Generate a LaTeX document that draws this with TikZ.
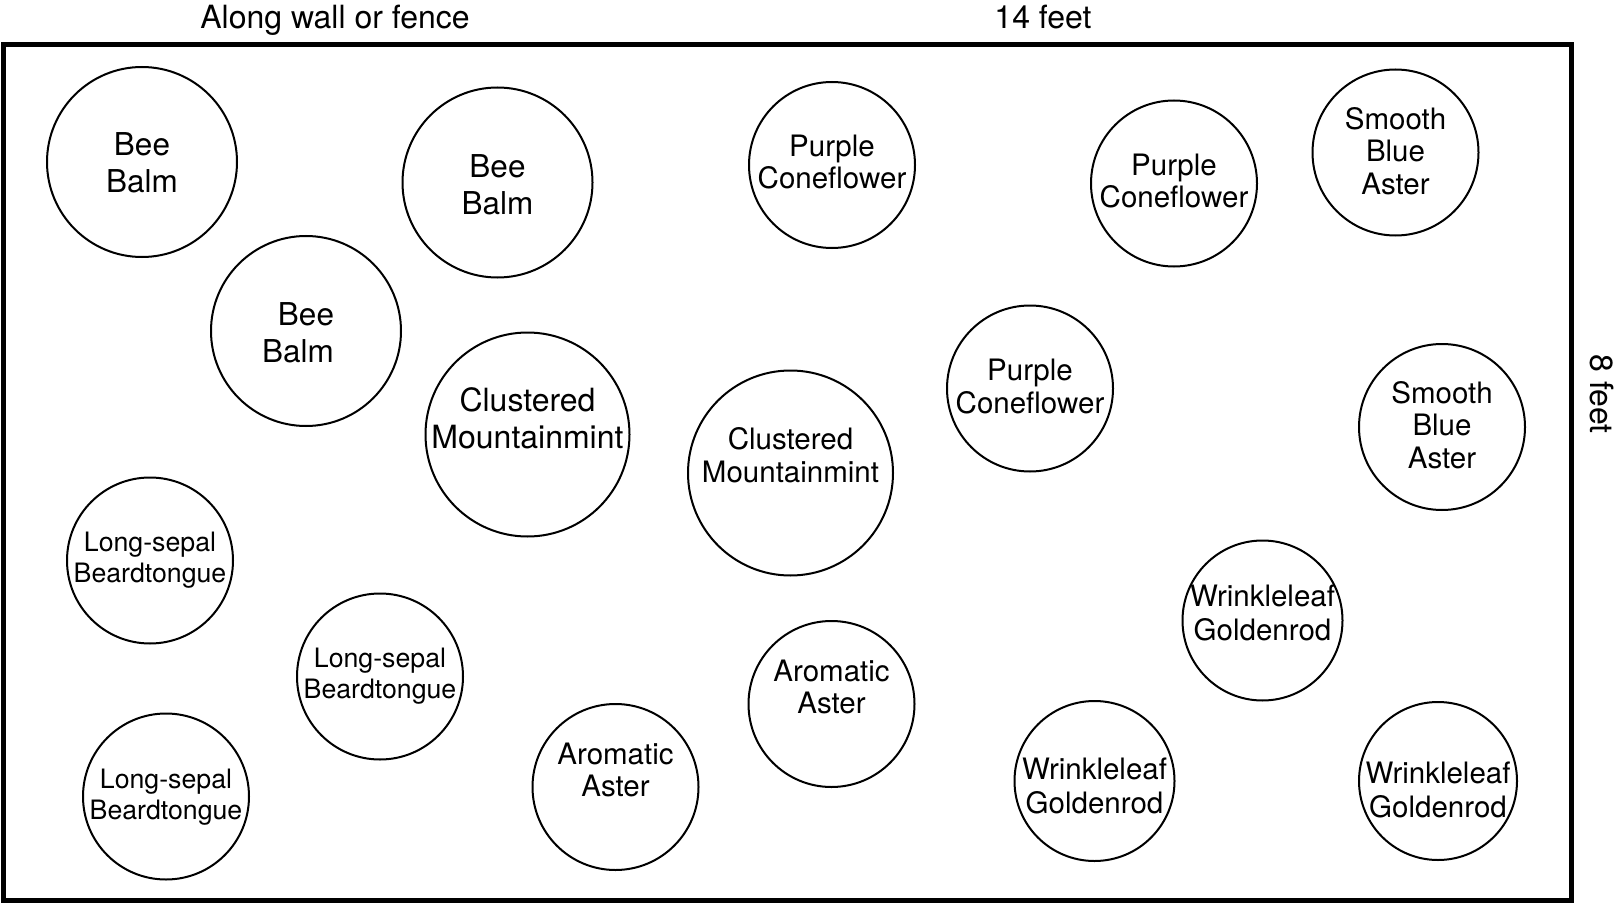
\documentclass[tikz,border=0pt]{standalone}
\usepackage{fontspec}
\setmainfont{TeX Gyre Heros}
\usepackage{tikz}

\begin{document}
\begin{tikzpicture}[x=1pt,y=-1pt,
  plant/.style={draw=black,line width=2pt},
  lbl/.style={align=center,inner sep=0pt},
  balm/.style={lbl,font=\fontsize{31.5}{37}\selectfont},
  mint/.style={lbl,font=\fontsize{32}{36.7}\selectfont},
  flower/.style={lbl,font=\fontsize{29.5}{32.5}\selectfont},
  weed/.style={lbl,font=\fontsize{29.5}{34}\selectfont},
  tongue/.style={lbl,font=\fontsize{26.7}{31}\selectfont},
  side/.style={inner sep=0pt,font=\fontsize{32}{38}\selectfont}]
\useasboundingbox (0,0) rectangle (1617,904);

% bed
\draw[line width=5pt] (3.5,44.8) rectangle (1571.5,900.5);
\node[side,anchor=base] (wall) at (335,28.3) {Along wall or fence};
\node[side,anchor=base] (width) at (1043,28.3) {14 feet};
\node[side,rotate=-90] (depth) at (1601.5,394) {8 feet};

% bee balm
\draw[plant] (142,162) circle (95);
\node[balm] (bb1) at (142,163) {Bee\\Balm};
\draw[plant] (497.5,182.5) circle (95);
\node[balm] (bb2) at (497.5,185) {Bee\\Balm};
\draw[plant] (306,331) circle (95);
\node[balm] (bb3) at (306,333) {Bee\\Balm\hspace*{16pt}};

% coneflower and aster
\draw[plant] (832,165) circle (83);
\node[flower] (pc1) at (832,162) {Purple\\Coneflower};
\draw[plant] (1174,183.5) circle (83);
\node[flower] (pc2) at (1174,181) {Purple\\Coneflower};
\draw[plant] (1030,388.5) circle (83);
\node[flower] (pc3) at (1030,386.5) {Purple\\Coneflower};
\draw[plant] (1395.5,152.5) circle (83);
\node[flower] (sba1) at (1395.5,151) {Smooth\\Blue\\Aster};
\draw[plant] (1442,427) circle (83);
\node[flower] (sba2) at (1442,425) {Smooth\\Blue\\Aster};

% mountainmint
\draw[plant] (527.5,434.5) circle (102);
\node[mint] (cm1) at (527.5,418) {Clustered\\Mountainmint};
\draw[plant] (790.5,473) circle (102.5);
\node[flower] (cm2) at (790.5,455) {Clustered\\Mountainmint};

% beardtongue
\draw[plant] (150,560.5) circle (83);
\node[tongue] (lsb1) at (150,560) {Long-sepal\\Beardtongue};
\draw[plant] (380,676.5) circle (83);
\node[tongue] (lsb2) at (380,676.5) {Long-sepal\\Beardtongue};
\draw[plant] (166,796.5) circle (83);
\node[tongue] (lsb3) at (166,797) {Long-sepal\\Beardtongue};

% aromatic aster
\draw[plant] (615.5,787) circle (83);
\node[flower] (aa1) at (615.5,770) {Aromatic\\Aster};
\draw[plant] (831.5,704) circle (83);
\node[flower] (aa2) at (831.5,687) {Aromatic\\Aster};

% goldenrod
\draw[plant] (1262.5,620.5) circle (80);
\node[weed] (wg1) at (1262.5,612.5) {Wrinkleleaf\\Goldenrod};
\draw[plant] (1094.5,781) circle (80);
\node[weed] (wg2) at (1094.5,785.5) {Wrinkleleaf\\Goldenrod};
\draw[plant] (1438,781) circle (79);
\node[weed] (wg3) at (1438,790) {Wrinkleleaf\\Goldenrod};
\end{tikzpicture}
\end{document}
